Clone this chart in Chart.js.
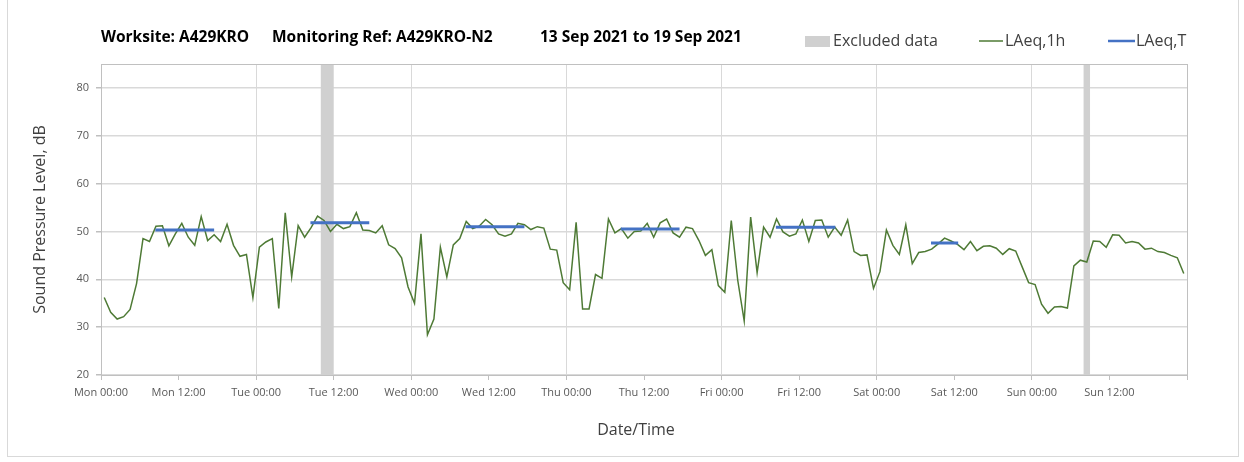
<!DOCTYPE html>
<html>
<head>
<meta charset="utf-8">
<script src="https://cdn.jsdelivr.net/npm/chart.js@4.4.0/dist/chart.umd.min.js"></script>
<style>
  html,body{margin:0;padding:0;background:#fff;}
  #frame{position:absolute;left:7px;top:-1px;width:1230px;height:456px;border:1px solid #d9d9d9;}
  #wrap{position:absolute;left:0;top:0;width:1244px;height:462px;}
</style>
</head>
<body>
<div id="frame"></div>
<div id="wrap"><canvas id="chart" width="1244" height="462"></canvas></div>
<script>
// hourly LAeq,1h values, Mon 00:00 .. Sun 23:00
const HOURLY_DB = [
  36.2,33.1,31.7,32.2,33.7,39.1,48.5,47.9,51.1,51.2,
  47.0,49.5,51.7,48.8,47.1,53.1,48.1,49.3,47.9,51.5,
  47.1,44.8,45.2,36.2,46.7,47.8,48.5,33.9,53.9,40.5,
  51.2,48.8,50.8,53.2,52.3,50.0,51.5,50.6,51.0,53.9,
  50.3,50.2,49.7,51.2,47.2,46.4,44.5,38.4,35.0,49.5,
  28.4,31.7,46.7,40.5,47.2,48.5,52.1,50.6,51.1,52.5,
  51.4,49.5,49.0,49.5,51.7,51.4,50.4,51.0,50.7,46.3,
  46.1,39.3,37.8,51.9,33.8,33.8,41.0,40.2,52.6,49.7,
  50.6,48.6,50.0,50.1,51.7,48.8,51.8,52.6,49.7,48.8,
  50.9,50.6,48.1,45.0,46.2,38.7,37.3,52.3,39.8,31.3,
  53.0,41.4,50.9,48.8,52.6,49.9,49.0,49.5,52.4,47.9,
  52.3,52.4,48.8,50.9,49.2,52.4,45.8,45.0,45.1,38.1,
  41.6,50.3,47.1,45.2,51.4,43.3,45.6,45.8,46.3,47.4,
  48.6,48.0,47.3,46.2,47.9,46.0,46.9,47.0,46.5,45.2,
  46.4,45.9,42.6,39.3,38.9,34.8,32.9,34.2,34.3,34.0,
  42.8,44.0,43.6,48.0,47.9,46.7,49.3,49.2,47.6,47.9,
  47.6,46.3,46.5,45.8,45.6,45.0,44.5,41.2
];

// LAeq,T daytime periods (hours from Mon 00:00)
const LAEQT_FROM = [8.4, 32.4, 56.4, 80.4, 104.4, 128.4];
const LAEQT_TO   = [17.5, 41.5, 65.5, 89.5, 113.6, 132.6];
const LAEQT_DB   = [50.3, 51.8, 51.0, 50.5, 50.9, 47.6];

// excluded periods (hours from Mon 00:00)
const EXCL_FROM = [34, 152];
const EXCL_TO   = [36, 153];

const X_TICK_LABELS = ['Mon 00:00','Mon 12:00','Tue 00:00','Tue 12:00','Wed 00:00','Wed 12:00',
  'Thu 00:00','Thu 12:00','Fri 00:00','Fri 12:00','Sat 00:00','Sat 12:00','Sun 00:00','Sun 12:00',''];
const Y_TICKS = [20,30,40,50,60,70,80];

const TITLE_PARTS = [['Worksite: A429KRO',101],['Monitoring Ref: A429KRO-N2',272],['13 Sep 2021 to 19 Sep 2021',540]];

const FONT = '"Open Sans", "DejaVu Sans", sans-serif';

const hourly = HOURLY_DB.map((v,i)=>({x:i+0.5,y:v}));
const laeqT = [];
LAEQT_DB.forEach((v,i)=>{ laeqT.push({x:LAEQT_FROM[i],y:v},{x:LAEQT_TO[i],y:v},{x:LAEQT_TO[i],y:null}); });

const decor = {
  id:'decor',
  beforeDatasetsDraw(chart){
    const {ctx,chartArea:a,scales:{x}}=chart;
    ctx.save();
    ctx.fillStyle='#d0d0d0';
    EXCL_FROM.forEach((f,i)=>{
      const x0=x.getPixelForValue(f), x1=x.getPixelForValue(EXCL_TO[i]);
      ctx.fillRect(x0,a.top,x1-x0,a.bottom-a.top);
    });
    ctx.strokeStyle='#c0c0c0'; ctx.lineWidth=1;
    ctx.strokeRect(a.left+0.5,a.top+0.5,a.right-a.left,a.bottom-a.top);
    ctx.restore();
  },
  afterDraw(chart){
    const {ctx,chartArea:a}=chart;
    ctx.save();
    ctx.fillStyle='#000'; ctx.textBaseline='middle'; ctx.textAlign='left';
    ctx.font='bold 15.5px '+FONT;
    TITLE_PARTS.forEach(([t,px])=>ctx.fillText(t,px,38));
    // legend
    ctx.font='16px '+FONT;
    ctx.fillStyle='#d0d0d0'; ctx.fillRect(805,36,25,11);
    ctx.fillStyle='#404040'; ctx.fillText('Excluded data',833,41);
    ctx.strokeStyle='#4e7a35'; ctx.lineWidth=1.5;
    ctx.beginPath(); ctx.moveTo(979,41); ctx.lineTo(1003,41); ctx.stroke();
    ctx.fillText('LAeq,1h',1005,41);
    ctx.strokeStyle='#4472c4'; ctx.lineWidth=2.5;
    ctx.beginPath(); ctx.moveTo(1108,41); ctx.lineTo(1135,41); ctx.stroke();
    ctx.fillText('LAeq,T',1136,41);
    // axis titles
    ctx.font='16px '+FONT; ctx.textAlign='center';
    ctx.fillText('Date/Time',636,430);
    ctx.translate(40,(a.top+a.bottom)/2); ctx.rotate(-Math.PI/2);
    ctx.fillText('Sound Pressure Level, dB',0,0);
    ctx.restore();
  }
};

new Chart(document.getElementById('chart'),{
  type:'line',
  data:{datasets:[
    {label:'LAeq,T',data:laeqT,borderColor:'#4472c4',borderWidth:3,pointRadius:0,spanGaps:false,order:0},
    {label:'LAeq,1h',data:hourly,borderColor:'#4e7a35',borderWidth:1.5,pointRadius:0,tension:0,order:1},
  ]},
  options:{
    responsive:false,animation:false,
    layout:{padding:{left:0,top:64,right:57,bottom:0}},
    plugins:{legend:{display:false},tooltip:{enabled:false},title:{display:false}},
    scales:{
      x:{type:'linear',min:0,max:168,
        afterBuildTicks:s=>{s.ticks=X_TICK_LABELS.map((_,i)=>({value:i*12}));},
        afterFit:s=>{s.height=87;},
        ticks:{autoSkip:false,maxRotation:0,padding:6,color:'#595959',font:{family:FONT,size:11},
          callback:(v)=>X_TICK_LABELS[Math.round(v/12)]},
        grid:{color:c=>(c.tick&&c.tick.value%24===0)?'#d9d9d9':'rgba(0,0,0,0)',lineWidth:1,tickColor:'#bfbfbf',tickLength:5},
        border:{color:'#bfbfbf',width:1}},
      y:{min:20,max:85,
        afterBuildTicks:s=>{s.ticks=Y_TICKS.map(v=>({value:v}));},
        afterFit:s=>{s.width=101;},
        ticks:{padding:7,color:'#595959',font:{family:FONT,size:11}},
        grid:{color:'#d9d9d9',lineWidth:1.5,tickColor:'#bfbfbf',tickLength:5},
        border:{color:'#bfbfbf',width:1}}
    }
  },
  plugins:[decor]
});
</script>
</body>
</html>
